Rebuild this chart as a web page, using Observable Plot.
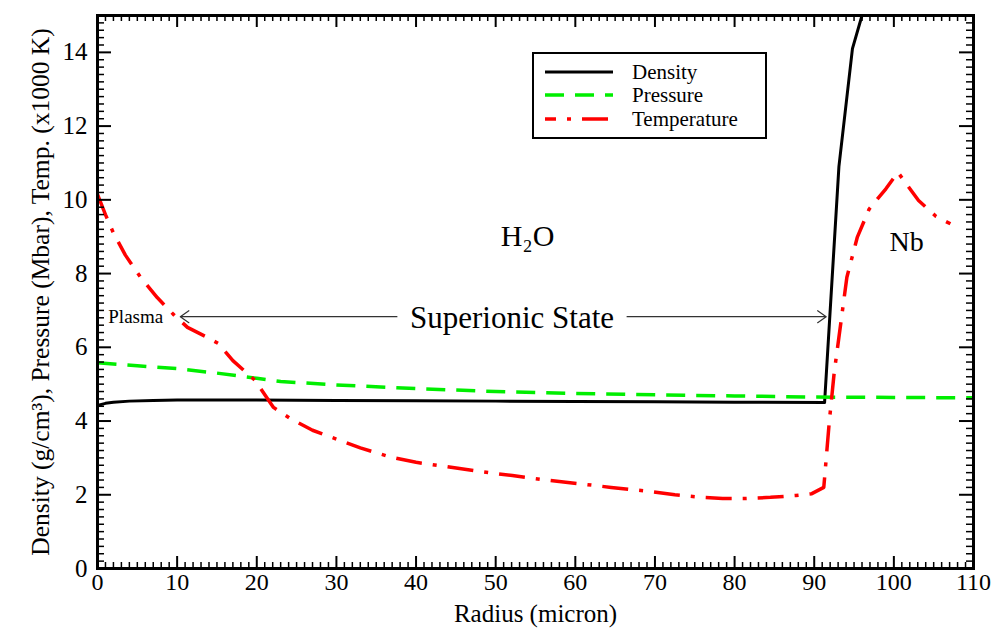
<!DOCTYPE html>
<html>
<head>
<meta charset="utf-8">
<script src="https://cdn.jsdelivr.net/npm/d3@7"></script>
<script src="https://cdn.jsdelivr.net/npm/@observablehq/plot@0.6"></script>
<style>
  body { margin: 0; background: #fff; }
  #chart { position: relative; width: 999px; height: 630px; font-family: "Liberation Serif", "Times New Roman", serif; }
  #legend { position: absolute; left: 532px; top: 52px; width: 231px; height: 83px; border: 2px solid #000; background: #fff; }
  #legend .row { position: absolute; left: 0; height: 22px; display: flex; align-items: center; }
  #legend svg { margin-left: 11px; }
  #legend span { margin-left: 19px; font-size: 21px; color: #000; }
</style>
</head>
<body>
<div id="chart"></div>
<script>
// Radial profiles through the water layer (H2O) and into the niobium wall (Nb)
const densityRadius = [0, 1, 2, 4, 7, 10, 20, 30, 40, 50, 60, 70, 80, 91.3, 93.1, 94.8, 96.0, 96.6];
const densityValues = [4.42, 4.48, 4.51, 4.54, 4.56, 4.57, 4.57, 4.56, 4.55, 4.54, 4.53, 4.52, 4.51, 4.50, 10.9, 14.1, 15.0, 15.8];

const pressureRadius = [0, 5, 10, 15, 20, 23, 30, 40, 50, 60, 70, 80, 90, 100, 110];
const pressureValues = [5.58, 5.50, 5.42, 5.30, 5.16, 5.07, 4.98, 4.88, 4.80, 4.75, 4.71, 4.68, 4.65, 4.64, 4.63];

const temperatureRadius = [0, 1, 2, 3.5, 5.4, 7.5, 9.5, 11.3, 13.5, 15.2, 17, 19.8, 22.1, 24.2, 27, 30.5, 33, 36.7, 40, 43.9, 48, 52.1, 56, 60.5, 64.5, 68.9, 72.5, 75.9, 78.5, 81.5, 84.5, 87.7, 89.7, 91.2, 91.9, 92.5, 93.1, 94.1, 95.4, 96.9, 99.0, 100.5, 101.5, 103.1, 105.3, 107.1];
const temperatureValues = [10.15, 9.6, 9.1, 8.5, 7.9, 7.35, 6.9, 6.54, 6.3, 6.1, 5.64, 5.1, 4.37, 4.07, 3.75, 3.47, 3.27, 3.03, 2.88, 2.76, 2.63, 2.52, 2.41, 2.3, 2.2, 2.1, 2.0, 1.93, 1.9, 1.9, 1.93, 1.98, 2.03, 2.2, 4.0, 5.3, 6.27, 7.9, 8.98, 9.75, 10.3, 10.75, 10.45, 9.98, 9.55, 9.35];

const seriesNames = ["Density", "Pressure", "Temperature"];
const seriesColors = ["#000000", "#00ee00", "#ff0000"];
const seriesDashes = [null, "19,11", "26,11,4,11"];
const seriesWidths = [3, 3.5, 3.5];

const xTicks = [0, 10, 20, 30, 40, 50, 60, 70, 80, 90, 100, 110];
const yTicks = [0, 2, 4, 6, 8, 10, 12, 14];
const xMinorTicks = d3.range(0, 111, 1);
const yMinorTicks = d3.range(0, 15.01, 0.2);

const xLabel = "Radius (micron)";
const yLabel = "Density (g/cm³), Pressure (Mbar), Temp. (x1000 K)";

// Region annotations
const superionicSpan = [10.4, 91.5];   // arrow ends (radius)
const superionicGap = [37.6, 66.5];    // break in the arrow for the label
const superionicLevel = 6.83;
const regionLabels = [
  {x: 54.0, y: 9.0, text: "H₂O", size: 30},
  {x: 101.6, y: 8.85, text: "Nb", size: 28}
];

const serif = "'Liberation Serif', 'Times New Roman', serif";
const W = 999, H = 630;
const margin = {top: 15, right: 26, bottom: 62, left: 97};
const innerH = H - margin.top - margin.bottom;
const innerW = W - margin.left - margin.right;

const toRows = (xs, ys) => xs.map((x, i) => ({x, y: ys[i]}));
const seriesData = [
  toRows(densityRadius, densityValues),
  toRows(pressureRadius, pressureValues),
  toRows(temperatureRadius, temperatureValues)
];

const isMajorX = v => xTicks.includes(v);
const isMajorY = v => yTicks.some(t => Math.abs(t - v) < 1e-6);
const xMinor = xMinorTicks.filter(v => !isMajorX(v));
const yMinor = yMinorTicks.filter(v => !isMajorY(v));

const tickStyle = {stroke: "#000"};

const chart = Plot.plot({
  width: W,
  height: H,
  marginTop: margin.top,
  marginRight: margin.right,
  marginBottom: margin.bottom,
  marginLeft: margin.left,
  x: {domain: [0, 110]},
  y: {domain: [0, 15]},
  style: {fontFamily: serif, color: "#000", background: "#fff", overflow: "visible"},
  marks: [
    // data curves
    ...seriesData.map((rows, i) => Plot.line(rows, {
      x: "x", y: "y",
      stroke: seriesColors[i],
      strokeWidth: seriesWidths[i],
      strokeDasharray: seriesDashes[i],
      strokeLinecap: "butt",
      clip: true
    })),

    // superionic arrow (split around its label)
    Plot.arrow([0], {x1: superionicGap[0], x2: superionicSpan[0], y1: superionicLevel, y2: superionicLevel,
      stroke: "#333", strokeWidth: 1.2, headLength: 13, headAngle: 70}),
    Plot.arrow([0], {x1: superionicGap[1], x2: superionicSpan[1], y1: superionicLevel, y2: superionicLevel,
      stroke: "#333", strokeWidth: 1.2, headLength: 13, headAngle: 70}),
    Plot.text(["Superionic State"], {x: (superionicGap[0] + superionicGap[1]) / 2, y: superionicLevel,
      text: d => d, fontSize: 31, lineAnchor: "middle", dy: 1}),
    Plot.text(["Plasma"], {x: 4.8, y: superionicLevel, text: d => d, fontSize: 19, lineAnchor: "middle"}),
    ...regionLabels.map(r => Plot.text([r], {x: "x", y: "y", text: "text", fontSize: r.size, lineAnchor: "middle"})),

    // inward ticks on all four sides
    Plot.tickX(xTicks, {x: d => d, insetTop: innerH - 12, strokeWidth: 2, ...tickStyle}),
    Plot.tickX(xTicks, {x: d => d, insetBottom: innerH - 12, strokeWidth: 2, ...tickStyle}),
    Plot.tickX(xMinor, {x: d => d, insetTop: innerH - 6, strokeWidth: 1.5, ...tickStyle}),
    Plot.tickX(xMinor, {x: d => d, insetBottom: innerH - 6, strokeWidth: 1.5, ...tickStyle}),
    Plot.tickY(yTicks, {y: d => d, insetRight: innerW - 14, strokeWidth: 2, ...tickStyle}),
    Plot.tickY(yTicks, {y: d => d, insetLeft: innerW - 14, strokeWidth: 2, ...tickStyle}),
    Plot.tickY(yMinor, {y: d => d, insetRight: innerW - 7, strokeWidth: 1.5, ...tickStyle}),
    Plot.tickY(yMinor, {y: d => d, insetLeft: innerW - 7, strokeWidth: 1.5, ...tickStyle}),

    // tick labels
    Plot.axisX({ticks: xTicks, tickSize: 0, tickPadding: 4, fontSize: 24, label: null}),
    Plot.axisY({ticks: yTicks, tickSize: 0, tickPadding: 10, fontSize: 25, label: null}),

    // axis titles
    Plot.text([xLabel], {frameAnchor: "bottom", text: d => d, dy: 45, fontSize: 25, lineAnchor: "middle", textAnchor: "middle"}),
    Plot.text([yLabel], {frameAnchor: "left", text: d => d, dx: -57, rotate: -90, fontSize: 25.5, lineAnchor: "middle", textAnchor: "middle"}),

    Plot.frame({stroke: "#000", strokeWidth: 3})
  ]
});

const host = document.getElementById("chart");
host.appendChild(chart);

// Legend box
const legend = document.createElement("div");
legend.id = "legend";
const rowTops = [7, 30, 54];
seriesNames.forEach((name, i) => {
  const row = document.createElement("div");
  row.className = "row";
  row.style.top = rowTops[i] + "px";
  const sw = d3.create("svg").attr("width", 68).attr("height", 10);
  sw.append("line")
    .attr("x1", 0).attr("x2", 68).attr("y1", 5).attr("y2", 5)
    .attr("stroke", seriesColors[i])
    .attr("stroke-width", seriesWidths[i])
    .attr("stroke-dasharray", seriesDashes[i])
    .attr("stroke-dashoffset", i === 2 ? 15 : 0);
  row.appendChild(sw.node());
  const label = document.createElement("span");
  label.textContent = name;
  row.appendChild(label);
  legend.appendChild(row);
});
host.appendChild(legend);
</script>
</body>
</html>
